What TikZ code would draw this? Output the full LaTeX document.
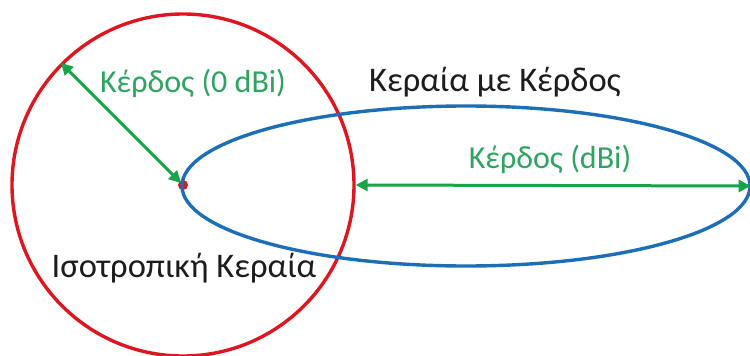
\documentclass[tikz,border=0pt]{standalone}
\usepackage{fontspec}
\setmainfont{Carlito}
\usetikzlibrary{shapes.geometric,arrows.meta}
\definecolor{isored}{RGB}{222,22,32}
\definecolor{lobeblue}{RGB}{28,110,182}
\definecolor{arrowgreen}{RGB}{26,164,74}
\definecolor{labelgreen}{RGB}{46,164,96}
\definecolor{darktext}{RGB}{28,28,28}
\tikzset{
  pattern line/.style={line width=3.4pt},
  gainarrow/.style={arrowgreen, line width=3pt,
    {Triangle[length=12pt,width=12pt]}-{Triangle[length=12pt,width=12pt]}},
  greenlabel/.style={text=labelgreen, anchor=base, inner sep=0pt,
    font=\fontsize{32}{36}\selectfont},
  blacklabel/.style={text=darktext, anchor=base, inner sep=0pt,
    font=\fontsize{34.5}{38}\selectfont},
}
\begin{document}
\begin{tikzpicture}[x=1pt,y=-1pt]
  \useasboundingbox (0,0) rectangle (750,356);
  \fill[white] (0,0) rectangle (750,356);
  % isotropic pattern
  \node[draw=isored, pattern line, circle, minimum size=342pt, inner sep=0pt]
    (iso) at (183,185) {};
  \fill[isored] (iso.center) circle (5pt);
  % directional pattern
  \node[draw=lobeblue, pattern line, ellipse, minimum width=568pt,
    minimum height=160pt, inner sep=0pt] (lobe) at (466,186) {};
  % gain arrows
  \draw[gainarrow] ([shift={(-2,-2)}]iso.center) -- (iso.135);
  \draw[gainarrow] (iso.east) -- ([xshift=-1pt]lobe.east);
  % labels
  \node[greenlabel] (g0) at (193,92) {Κέρδος (0 dBi)};
  \node[blacklabel] (ant) at (495,91) {Κεραία με Κέρδος};
  \node[greenlabel] (g1) at (550,168) {Κέρδος (dBi)};
  \node[blacklabel] (isoname) at (184,277) {Ισοτροπική Κεραία};
\end{tikzpicture}
\end{document}
